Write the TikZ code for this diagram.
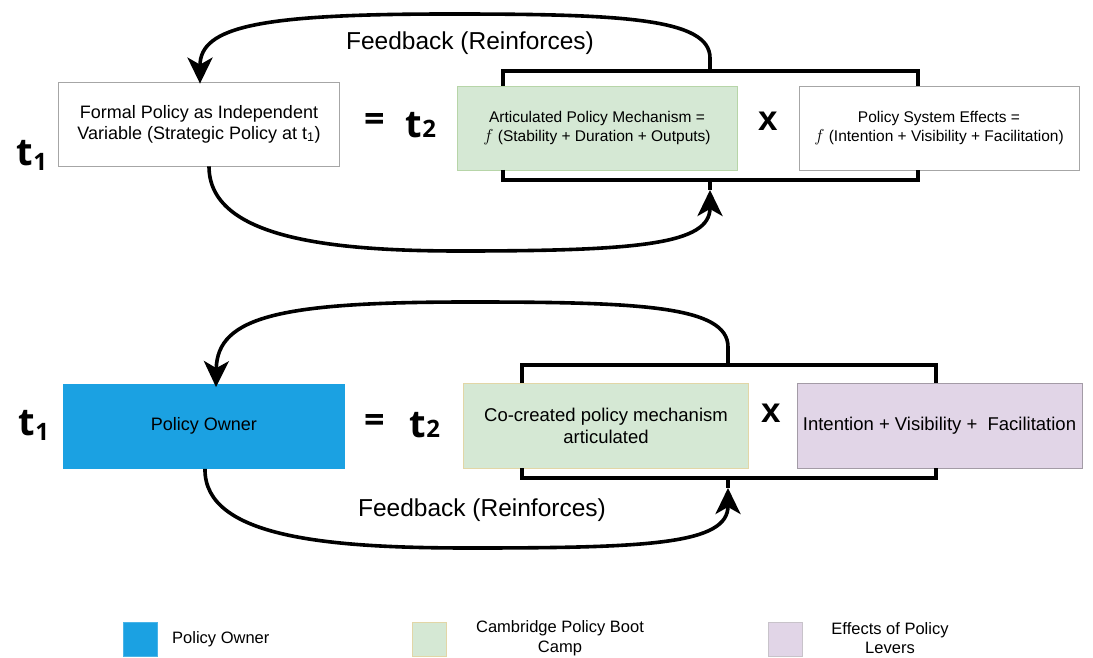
\documentclass[tikz,border=0pt]{standalone}
\usepackage{fontspec}
\setmainfont{Liberation Sans}
\newfontfamily\tfont{Open Sans}
\usetikzlibrary{arrows.meta}

\definecolor{ownerblue}{HTML}{1BA1E2}
\definecolor{campgreen}{HTML}{D5E8D4}
\definecolor{campedge}{HTML}{B7D5A8}
\definecolor{campedgeb}{HTML}{E2D6A6}
\definecolor{leverpurple}{HTML}{E1D5E7}
\definecolor{leveredge}{HTML}{A39BA6}
\definecolor{boxgray}{HTML}{A6A6A6}

\newcommand{\fsz}[1]{\fontsize{#1}{1.18\dimexpr#1pt\relax}\selectfont}
\newcommand{\tsub}[2]{{\tfont\bfseries\fsz{38}t\raisebox{#2}{\fsz{24}#1}}}
\newcommand{\fn}{{\fsz{18}$f$}}

\begin{document}
\begin{tikzpicture}[x=1pt,y=-1pt,
  cell/.style={minimum width=281pt, minimum height=84pt, inner sep=0pt,
               align=center, line width=0.8pt},
  whitecell/.style={cell, draw=boxgray, fill=white},
  greencell/.style={cell, draw=campedge, fill=campgreen},
  bracket/.style={line width=3.6pt, line join=miter},
  headtip/.tip={Stealth[length=26pt 0 0, width=25pt 0 0, inset=7pt 0 0]},
  fb/.style={line width=3.6pt, line cap=butt, -headtip},
  stem/.style={line width=3.6pt},
  sym/.style={inner sep=0pt},
  fbtext/.style={inner sep=0pt, font=\fsz{24.5}},
  legendbox/.style={minimum width=34pt, minimum height=34pt, inner sep=0pt, line width=0.8pt},
  legendtext/.style={inner sep=0pt, align=center, font=\fsz{16.5}}
]
\useasboundingbox (0,0) rectangle (1093,658);

% ---------- upper equation ----------
\node[sym] (t1a) at (32,155) {\tsub{1}{-5pt}};
\node[whitecell, font=\fsz{18}] (formal) at (199,124)
  {Formal Policy as Independent\\Variable (Strategic Policy at t\textsubscript{1})};
\node[sym, font=\tfont\bfseries\fsz{36}] (eqa) at (375,123) {=};
\node[sym] (t2a) at (421,125) {\tsub{2}{0pt}};
\node[greencell, minimum width=280pt, font=\fsz{15.5}] (mecha) at (597,128)
  {Articulated Policy Mechanism =\\\fn{} (Stability + Duration + Outputs)};
\node[sym, font=\bfseries\fsz{35}] (xa) at (768,121) {x};
\node[whitecell, minimum width=280pt, font=\fsz{15.5}] (effa) at (939,128)
  {Policy System Effects =\\\fn{} (Intention + Visibility + Facilitation)};

% bracket joining the two factors
\draw[bracket] (503,86) -- (503,71) -- (918,71) -- (918,86);
\draw[bracket] (503,170) -- (503,180) -- (918,180) -- (918,170);
\coordinate (topA) at (710,71);
\coordinate (botA) at (710,180);
\coordinate (tipA) at (710,190);

\draw[fb] (topA) -- (710,58)
  .. controls (710,18) and (620,14) .. (450,14)
  .. controls (262,14) and (200,26) .. ([xshift=1pt,yshift=-2pt]formal.north);
\node[fbtext] (fblabA) at (470,43) {Feedback (Reinforces)};

\draw[stem] (botA) -- (tipA);
\draw[fb] ([xshift=10pt]formal.south)
  .. controls (209,238) and (330,251) .. (460,251)
  .. controls (640,251) and (710,244) .. (tipA);

% ---------- lower equation ----------
\node[sym] (t1b) at (34,425) {\tsub{1}{-5pt}};
\node[cell, fill=ownerblue, minimum width=282pt, minimum height=85pt, font=\fsz{18}] (owner) at (204,426)
  {Policy Owner};
\node[sym, font=\tfont\bfseries\fsz{36}] (eqb) at (375,423) {=};
\node[sym] (t2b) at (425,425) {\tsub{2}{0pt}};
\node[cell, draw=campedgeb, fill=campgreen, minimum width=285pt, minimum height=85pt, font=\fsz{18.5}] (mechb) at (606,426)
  {Co-created policy mechanism\\articulated};
\node[sym, font=\bfseries\fsz{35}] (xb) at (771,413) {x};
\node[cell, draw=leveredge, fill=leverpurple, minimum width=285pt, minimum height=85pt, font=\fsz{18.5}] (effb) at (939.5,426)
  {Intention + Visibility + \ Facilitation};

\draw[bracket] (522,383) -- (522,365) -- (936,365) -- (936,383);
\draw[bracket] (522,468) -- (522,478) -- (936,478) -- (936,468);
\coordinate (topB) at (728,365);
\coordinate (botB) at (728,478);
\coordinate (tipB) at (728,488);

\draw[fb] (topB) -- (728,347)
  .. controls (728,306) and (640,302) .. (470,302)
  .. controls (282,302) and (217,316) .. ([xshift=12pt,yshift=-4pt]owner.north);

\draw[stem] (botB) -- (tipB);
\draw[fb] ([xshift=1pt]owner.south)
  .. controls (204,538) and (330,548) .. (470,548)
  .. controls (650,548) and (728,544) .. (tipB);
\node[fbtext] (fblabB) at (482,510) {Feedback (Reinforces)};

% ---------- legend ----------
\node[legendbox, fill=ownerblue, draw=ownerblue!80!white] (lgA) at (140,639) {};
\node[legendtext, anchor=west] (lgAt) at (172,639) {Policy Owner};
\node[legendbox, fill=campgreen, draw=campedgeb] (lgB) at (429.5,639) {};
\node[legendtext] (lgBt) at (560,638) {Cambridge Policy Boot\\Camp};
\node[legendbox, fill=leverpurple, draw=leveredge!60!white] (lgC) at (785.5,639) {};
\node[legendtext] (lgCt) at (890,638) {Effects of Policy\\Levers};
\end{tikzpicture}
\end{document}
